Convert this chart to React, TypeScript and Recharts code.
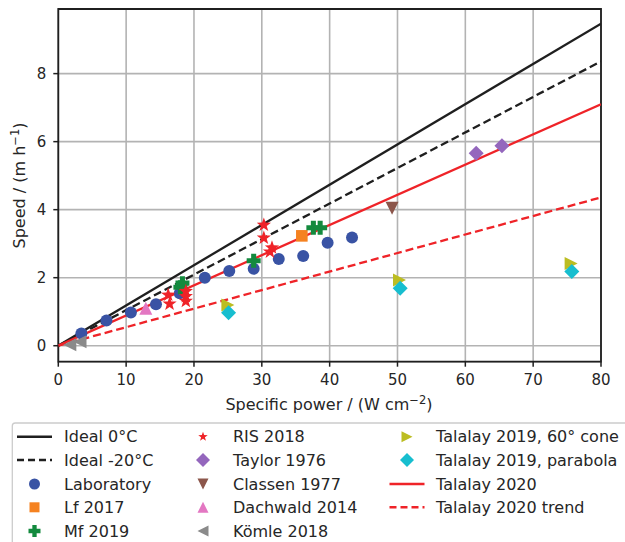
import React from 'react'
import {
  ComposedChart,
  Line,
  Scatter,
  XAxis,
  YAxis,
  CartesianGrid,
  ReferenceArea
} from 'recharts'

// --- data ---
const xTicks = [0, 10, 20, 30, 40, 50, 60, 70, 80]
const yTicks = [0, 2, 4, 6, 8]

const lineX = [0, 80]
const ideal0Y = [0, 9.47]
const ideal20Y = [0, 8.36]
const talalay2020Y = [0, 7.1]
const trendY = [0, 4.36]

const labX = [3.4, 7.1, 10.7, 14.4, 17.9, 21.6, 25.2, 28.8, 32.5, 36.1, 39.7, 43.3]
const labY = [0.36, 0.74, 0.98, 1.22, 1.54, 2.0, 2.2, 2.26, 2.55, 2.64, 3.03, 3.18]
const lfX = [35.9]
const lfY = [3.23]
const mfX = [18.0, 18.3, 28.8, 37.6, 38.6]
const mfY = [1.72, 1.84, 2.5, 3.47, 3.47]
const risX = [16.2, 16.4, 18.8, 18.8, 18.8, 30.3, 30.3, 31.5, 31.2]
const risY = [1.49, 1.23, 1.6, 1.45, 1.31, 3.55, 3.17, 2.88, 2.76]
const taylorX = [61.6, 65.4]
const taylorY = [5.66, 5.88]
const classenX = [49.2]
const classenY = [4.04]
const dachwaldX = [12.9]
const dachwaldY = [1.1]
const komleX = [1.7, 3.2]
const komleY = [0.03, 0.12]
const coneX = [25.0, 50.3, 75.6]
const coneY = [1.2, 1.93, 2.42]
const parabolaX = [25.1, 50.4, 75.7]
const parabolaY = [0.97, 1.69, 2.18]

const pts = (xs: number[], ys: number[]) => xs.map((x, i) => ({ x, y: ys[i] }))

const FONT = 'DejaVu Sans'
const TEXT = '#262626'
const BLACK = '#1f1f1f'
const RED = '#ef2328'

type Kind = 'circle' | 'square' | 'plus' | 'star' | 'diamond' | 'tdown' | 'tup' | 'tleft' | 'tright'

function Marker({ kind, cx, cy, s, color }: { kind: Kind; cx: number; cy: number; s: number; color: string }) {
  if (cx == null || cy == null) return null
  switch (kind) {
    case 'circle':
      return <circle cx={cx} cy={cy} r={s} fill={color} />
    case 'square':
      return <rect x={cx - s} y={cy - s} width={2 * s} height={2 * s} fill={color} />
    case 'plus': {
      const t = s * 0.36
      const d = `M${cx - t},${cy - s}H${cx + t}V${cy - t}H${cx + s}V${cy + t}H${cx + t}V${cy + s}H${cx - t}V${cy + t}H${cx - s}V${cy - t}H${cx - t}Z`
      return <path d={d} fill={color} />
    }
    case 'star': {
      let d = ''
      for (let i = 0; i < 10; i++) {
        const r = i % 2 === 0 ? s : s * 0.4
        const a = -Math.PI / 2 + (i * Math.PI) / 5
        d += `${i === 0 ? 'M' : 'L'}${cx + r * Math.cos(a)},${cy + r * Math.sin(a)}`
      }
      return <path d={d + 'Z'} fill={color} />
    }
    case 'diamond':
      return <path d={`M${cx},${cy - s}L${cx + s},${cy}L${cx},${cy + s}L${cx - s},${cy}Z`} fill={color} />
    case 'tdown':
      return <path d={`M${cx - s},${cy - s}L${cx + s},${cy - s}L${cx},${cy + s}Z`} fill={color} />
    case 'tup':
      return <path d={`M${cx - s},${cy + s}L${cx + s},${cy + s}L${cx},${cy - s}Z`} fill={color} />
    case 'tleft':
      return <path d={`M${cx + s},${cy - s}L${cx + s},${cy + s}L${cx - s},${cy}Z`} fill={color} />
    case 'tright':
      return <path d={`M${cx - s},${cy - s}L${cx - s},${cy + s}L${cx + s},${cy}Z`} fill={color} />
  }
  return null
}

const series: { name: string; data: { x: number; y: number }[]; kind: Kind; color: string; s: number; ls: number }[] = [
  { name: 'Laboratory', data: pts(labX, labY), kind: 'circle', color: '#3953a4', s: 6, ls: 5.5 },
  { name: 'Lf 2017', data: pts(lfX, lfY), kind: 'square', color: '#f58220', s: 5.8, ls: 5 },
  { name: 'Mf 2019', data: pts(mfX, mfY), kind: 'plus', color: '#138a3e', s: 7, ls: 6 },
  { name: 'RIS 2018', data: pts(risX, risY), kind: 'star', color: RED, s: 7.5, ls: 5 },
  { name: 'Taylor 1976', data: pts(taylorX, taylorY), kind: 'diamond', color: '#9467bd', s: 7.5, ls: 7 },
  { name: 'Classen  1977', data: pts(classenX, classenY), kind: 'tdown', color: '#8c564b', s: 6.5, ls: 5.5 },
  { name: 'Dachwald 2014', data: pts(dachwaldX, dachwaldY), kind: 'tup', color: '#e377c2', s: 6.5, ls: 5.5 },
  { name: 'Kömle 2018', data: pts(komleX, komleY), kind: 'tleft', color: '#8a8a8a', s: 6.5, ls: 5.5 },
  { name: 'Talalay 2019, 60° cone', data: pts(coneX, coneY), kind: 'tright', color: '#bcbd22', s: 6.5, ls: 5.5 },
  { name: 'Talalay 2019, parabola', data: pts(parabolaX, parabolaY), kind: 'diamond', color: '#17becf', s: 7.5, ls: 7 }
]

const lines = [
  { name: 'Ideal 0°C', data: pts(lineX, ideal0Y), color: BLACK, dash: undefined as string | undefined },
  { name: 'Ideal -20°C', data: pts(lineX, ideal20Y), color: BLACK, dash: '8 4' },
  { name: 'Talalay 2020', data: pts(lineX, talalay2020Y), color: RED, dash: undefined },
  { name: 'Talalay 2020 trend', data: pts(lineX, trendY), color: RED, dash: '8 4' }
]

const legendCols = [
  ['Ideal 0°C', 'Ideal -20°C', 'Laboratory', 'Lf 2017', 'Mf 2019'],
  ['RIS 2018', 'Taylor 1976', 'Classen  1977', 'Dachwald 2014', 'Kömle 2018'],
  ['Talalay 2019, 60° cone', 'Talalay 2019, parabola', 'Talalay 2020', 'Talalay 2020 trend']
]
const colIcon = [34.5, 203, 407]
const colText = [64, 233, 436]
const rowY = [436.7, 460, 484, 507.3, 531]

function LegendItem({ name, col, row }: { name: string; col: number; row: number }) {
  const cx = colIcon[col]
  const cy = rowY[row]
  const ln = lines.find(l => l.name === name)
  const sc = series.find(s => s.name === name)
  return (
    <g>
      {ln && (
        <line x1={cx - 17.5} x2={cx + 17.5} y1={cy} y2={cy} stroke={ln.color} strokeWidth={2.4} strokeDasharray={ln.dash ? '7 4' : undefined} />
      )}
      {sc && <Marker kind={sc.kind} cx={cx} cy={cy} s={sc.ls} color={sc.color} />}
      <text x={colText[col]} y={cy} dy="0.36em" fontSize={16} fontFamily={FONT} fill={TEXT}>
        {name}
      </text>
    </g>
  )
}

export default function App() {
  const tickStyle = { fill: TEXT, fontSize: 15, fontFamily: FONT }
  return (
    <div style={{ position: 'absolute', left: 0, top: 0, width: 625, height: 542, background: '#fff' }}>
      <ComposedChart width={625} height={420} margin={{ top: 9, right: 24, left: 0, bottom: 0 }}>
        <CartesianGrid stroke="#b3b3b3" strokeWidth={1.6} />
        <XAxis
          dataKey="x"
          type="number"
          domain={[0, 80]}
          ticks={xTicks}
          allowDataOverflow
          height={58.3}
          axisLine={false}
          tickLine={{ stroke: BLACK, strokeWidth: 1.5 }}
          tickSize={5}
          tickMargin={8}
          tick={tickStyle}
        />
        <YAxis
          dataKey="y"
          type="number"
          domain={[-0.47, 9.9]}
          ticks={yTicks}
          allowDataOverflow
          width={58.3}
          axisLine={false}
          tickLine={{ stroke: BLACK, strokeWidth: 1.5 }}
          tickSize={5}
          tickMargin={7}
          tick={tickStyle}
        />
        {lines.map(l => (
          <Line
            key={l.name}
            data={l.data}
            dataKey="y"
            type="linear"
            stroke={l.color}
            strokeWidth={2.3}
            strokeDasharray={l.dash}
            dot={false}
            activeDot={false}
            isAnimationActive={false}
          />
        ))}
        {series.map(s => (
          <Scatter
            key={s.name}
            data={s.data}
            dataKey="y"
            isAnimationActive={false}
            shape={(p: any) => <Marker kind={s.kind} cx={p.cx} cy={p.cy} s={s.s} color={s.color} />}
          />
        ))}
        <ReferenceArea x1={0} x2={80} y1={-0.47} y2={9.9} fill="none" stroke={BLACK} strokeWidth={1.8} />
      </ComposedChart>
      <svg width={625} height={542} style={{ position: 'absolute', left: 0, top: 0, pointerEvents: 'none' }}>
        <text x={329} y={410} textAnchor="middle" fontSize={16} fontFamily={FONT} fill={TEXT}>
          Specific power / (W cm
          <tspan fontSize={11.5} dy={-6.5}>−2</tspan>
          <tspan dy={6.5}>)</tspan>
        </text>
        <text transform="translate(25,185.5) rotate(-90)" textAnchor="middle" fontSize={16} fontFamily={FONT} fill={TEXT}>
          Speed / (m h
          <tspan fontSize={11.5} dy={-6.5}>−1</tspan>
          <tspan dy={6.5}>)</tspan>
        </text>
        <rect x={12.3} y={423} width={630} height={130} rx={3} fill="#fff" stroke="#cccccc" strokeWidth={1.3} />
        {legendCols.map((col, ci) => col.map((name, ri) => <LegendItem key={name} name={name} col={ci} row={ri} />))}
      </svg>
    </div>
  )
}
